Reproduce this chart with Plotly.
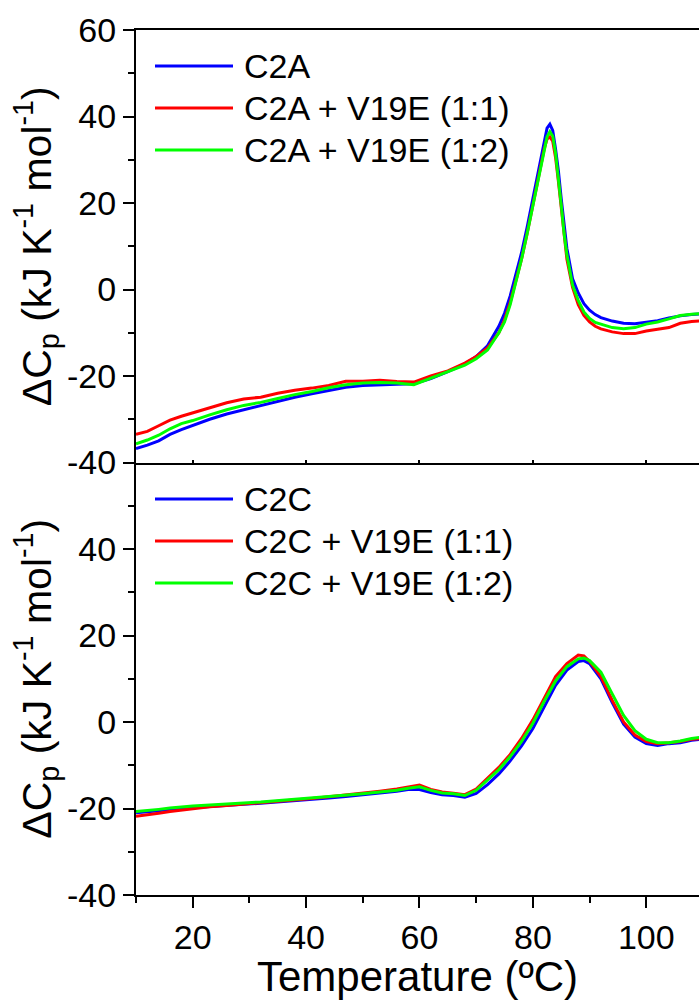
import plotly.graph_objects as go
from plotly.subplots import make_subplots

# ---------------- data ----------------
temp_a = [10, 12, 14, 16, 18, 20, 23, 26, 29, 32, 35, 38, 41, 44, 47, 50, 53, 56, 59,
          62, 65, 68, 70, 72, 74, 75, 76, 77, 78, 79, 80, 81, 82, 82.5, 83, 83.5, 84,
          84.5, 85, 85.5, 86, 87, 88, 89, 90, 91, 92, 94, 96, 98, 100, 102, 104, 106, 108, 110]

c2a = [-36.8, -36.0, -35.0, -33.5, -32.4, -31.4, -30.0, -28.8, -27.8, -26.8, -25.9, -24.9,
       -24.1, -23.3, -22.6, -22.2, -22.0, -21.9, -21.8, -20.6, -19.0, -17.2, -15.5, -13.0,
       -8.5, -5.5, -1.5, 3.5, 8.5, 14.5, 21.0, 27.5, 34.5, 37.3, 38.2, 36.8, 32.5, 27.5,
       21.0, 14.5, 9.5, 2.5, -0.8, -3.3, -4.8, -5.8, -6.5, -7.3, -7.8, -7.9, -7.6, -7.2,
       -6.6, -6.1, -5.8, -5.6]

c2a_v11 = [-33.5, -32.8, -31.5, -30.2, -29.3, -28.5, -27.3, -26.2, -25.3, -24.9, -24.0, -23.3,
           -22.8, -22.2, -21.2, -21.2, -21.0, -21.3, -21.4, -20.0, -18.8, -17.0, -15.5, -13.5,
           -10.0, -7.0, -3.0, 2.0, 7.0, 13.0, 19.5, 26.0, 32.5, 34.8, 35.3, 34.3, 30.5, 25.0,
           18.5, 12.0, 7.0, 0.5, -3.5, -6.0, -7.5, -8.5, -9.1, -9.8, -10.2, -10.2, -9.6, -9.2,
           -8.8, -7.8, -7.4, -7.2]

c2a_v12 = [-35.7, -34.8, -33.7, -32.2, -31.0, -30.3, -29.0, -27.8, -26.8, -26.1, -25.2, -24.3,
           -23.6, -22.7, -22.0, -21.6, -21.5, -21.6, -22.0, -20.5, -19.0, -17.5, -16.0, -14.0,
           -10.0, -7.5, -3.5, 1.5, 7.0, 13.0, 19.5, 26.0, 32.5, 35.3, 36.5, 35.5, 31.5, 26.0,
           19.5, 13.0, 8.0, 1.0, -2.5, -5.2, -6.7, -7.6, -8.0, -8.8, -9.1, -8.8, -8.0, -7.5,
           -6.8, -6.0, -5.7, -5.6]

temp_c = [10, 12, 14, 16, 18, 20, 23, 26, 29, 32, 35, 38, 41, 44, 47, 50, 53, 56, 58, 60,
          62, 64, 66, 68, 70, 72, 74, 76, 78, 80, 82, 84, 86, 88, 89, 90, 92, 94, 96, 98,
          100, 102, 104, 106, 108, 110]

c2c = [-21.0, -20.8, -20.5, -20.2, -20.0, -19.8, -19.5, -19.2, -19.0, -18.8, -18.5, -18.3,
       -18.0, -17.6, -17.2, -16.8, -16.5, -16.0, -15.6, -15.6, -16.3, -16.8, -17.0, -17.4,
       -16.5, -14.5, -12.0, -9.0, -5.5, -1.5, 3.5, 8.5, 12.0, 14.0, 14.2, 13.5, 10.0, 4.5,
       -0.5, -3.5, -5.0, -5.4, -5.0, -4.8, -4.2, -4.0]

c2c_v11 = [-21.8, -21.5, -21.1, -20.7, -20.4, -20.0, -19.6, -19.3, -19.0, -18.6, -18.3, -18.0,
           -17.7, -17.3, -16.9, -16.4, -16.0, -15.5, -15.0, -14.6, -15.6, -16.2, -16.5, -16.8,
           -15.5, -13.0, -10.5, -7.5, -3.8, 0.5, 5.5, 10.5, 13.5, 15.5, 15.3, 14.0, 10.5, 5.0,
           0.0, -3.0, -4.5, -5.0, -4.8, -4.5, -4.0, -3.8]

c2c_v12 = [-20.7, -20.5, -20.2, -19.9, -19.6, -19.4, -19.2, -18.9, -18.7, -18.5, -18.2, -17.9,
           -17.6, -17.3, -17.0, -16.6, -16.2, -15.8, -15.3, -15.0, -15.8, -16.4, -16.6, -17.0,
           -15.8, -13.5, -11.0, -8.0, -4.5, -0.3, 4.8, 9.5, 12.8, 14.6, 14.8, 14.2, 11.5, 6.5,
           1.5, -2.0, -4.0, -4.8, -4.8, -4.4, -3.8, -3.5]

names_a = ["C2A", "C2A + V19E (1:1)", "C2A + V19E (1:2)"]
names_c = ["C2C", "C2C + V19E (1:1)", "C2C + V19E (1:2)"]
colors = ["#0000FF", "#FF0000", "#00FF00"]

x_range = [10, 109.3]
y_ticks_top = [-40, -20, 0, 20, 40, 60]
y_labels_top = ["-40", "-20", "0", "20", "40", "60"]
y_ticks_bottom = [-40, -20, 0, 20, 40]
y_labels_bottom = ["-40", "-20", "0", "20", "40"]
x_ticks = [20, 40, 60, 80, 100]
x_title = "Temperature (ºC)"
y_title = "ΔC<sub>p</sub> (kJ K<sup>-1</sup> mol<sup>-1</sup>)"

FONT = "Liberation Sans, Arial, sans-serif"

fig = make_subplots(rows=2, cols=1, shared_xaxes=True, vertical_spacing=0)

for ys, nm, col in zip([c2a, c2a_v11, c2a_v12], names_a, colors):
    fig.add_trace(go.Scatter(x=temp_a, y=ys, mode="lines", name=nm, showlegend=False,
                             line=dict(color=col, width=3)), row=1, col=1)
for ys, nm, col in zip([c2c, c2c_v11, c2c_v12], names_c, colors):
    fig.add_trace(go.Scatter(x=temp_c, y=ys, mode="lines", name=nm, showlegend=False,
                             line=dict(color=col, width=3)), row=2, col=1)

# ---- legends (drawn as line samples + text, in paper coordinates) ----
PLOT_L, PLOT_W, PLOT_T, PLOT_H = 136, 563, 30, 865


def px_x(p):
    return (p - PLOT_L) / PLOT_W


def px_y(p):
    return 1 - (p - PLOT_T) / PLOT_H


legend_rows_top = [66, 108, 150]
legend_rows_bottom = [499, 541, 583]
for rows, names in ((legend_rows_top, names_a), (legend_rows_bottom, names_c)):
    for r, nm, col in zip(rows, names, colors):
        fig.add_shape(type="line", xref="paper", yref="paper",
                      x0=px_x(155), x1=px_x(233), y0=px_y(r), y1=px_y(r),
                      line=dict(color=col, width=3))
        fig.add_annotation(xref="paper", yref="paper", x=px_x(242), y=px_y(r),
                           xanchor="left", yanchor="middle", showarrow=False,
                           text=nm, font=dict(family=FONT, size=34, color="black"))

# x-axis title
fig.add_annotation(xref="paper", yref="paper", x=0.5, y=px_y(976),
                   xanchor="center", yanchor="middle", showarrow=False,
                   text=x_title, font=dict(family=FONT, size=42, color="black"))

common_y = dict(range=[-40, 60], showline=True, linecolor="black", linewidth=2,
                ticks="outside", ticklen=11, tickwidth=2, tickcolor="black",
                showgrid=False, zeroline=False,
                tickfont=dict(family=FONT, size=34, color="black"),
                minor=dict(dtick=10, tick0=0, ticks="outside", ticklen=6,
                           tickwidth=2, tickcolor="black", showgrid=False),
                title=dict(text=y_title, font=dict(family=FONT, size=41, color="black"),
                           standoff=3))

fig.update_yaxes(tickvals=y_ticks_top, ticktext=y_labels_top, row=1, col=1, **common_y)
fig.update_yaxes(tickvals=y_ticks_bottom, ticktext=y_labels_bottom, row=2, col=1, **common_y)

fig.update_xaxes(range=x_range, showline=True, linecolor="black", linewidth=2,
                 mirror=True, ticks="inside", ticklen=3, tickwidth=1.5, tickcolor="black",
                 tickvals=x_ticks, showticklabels=False, showgrid=False, zeroline=False,
                 row=1, col=1)
fig.update_xaxes(range=x_range, showline=True, linecolor="black", linewidth=2,
                 ticks="outside", ticklen=11, tickwidth=2, tickcolor="black",
                 tickvals=x_ticks, showgrid=False, zeroline=False,
                 tickfont=dict(family=FONT, size=34, color="black"),
                 minor=dict(dtick=10, tick0=0, ticks="outside", ticklen=6,
                            tickwidth=2, tickcolor="black", showgrid=False),
                 row=2, col=1)

fig.update_layout(
    width=699, height=1003,
    margin=dict(l=PLOT_L, r=699 - PLOT_L - PLOT_W, t=PLOT_T, b=1003 - PLOT_T - PLOT_H),
    plot_bgcolor="white", paper_bgcolor="white",
    showlegend=False,
)

fig.write_html("out.html")
